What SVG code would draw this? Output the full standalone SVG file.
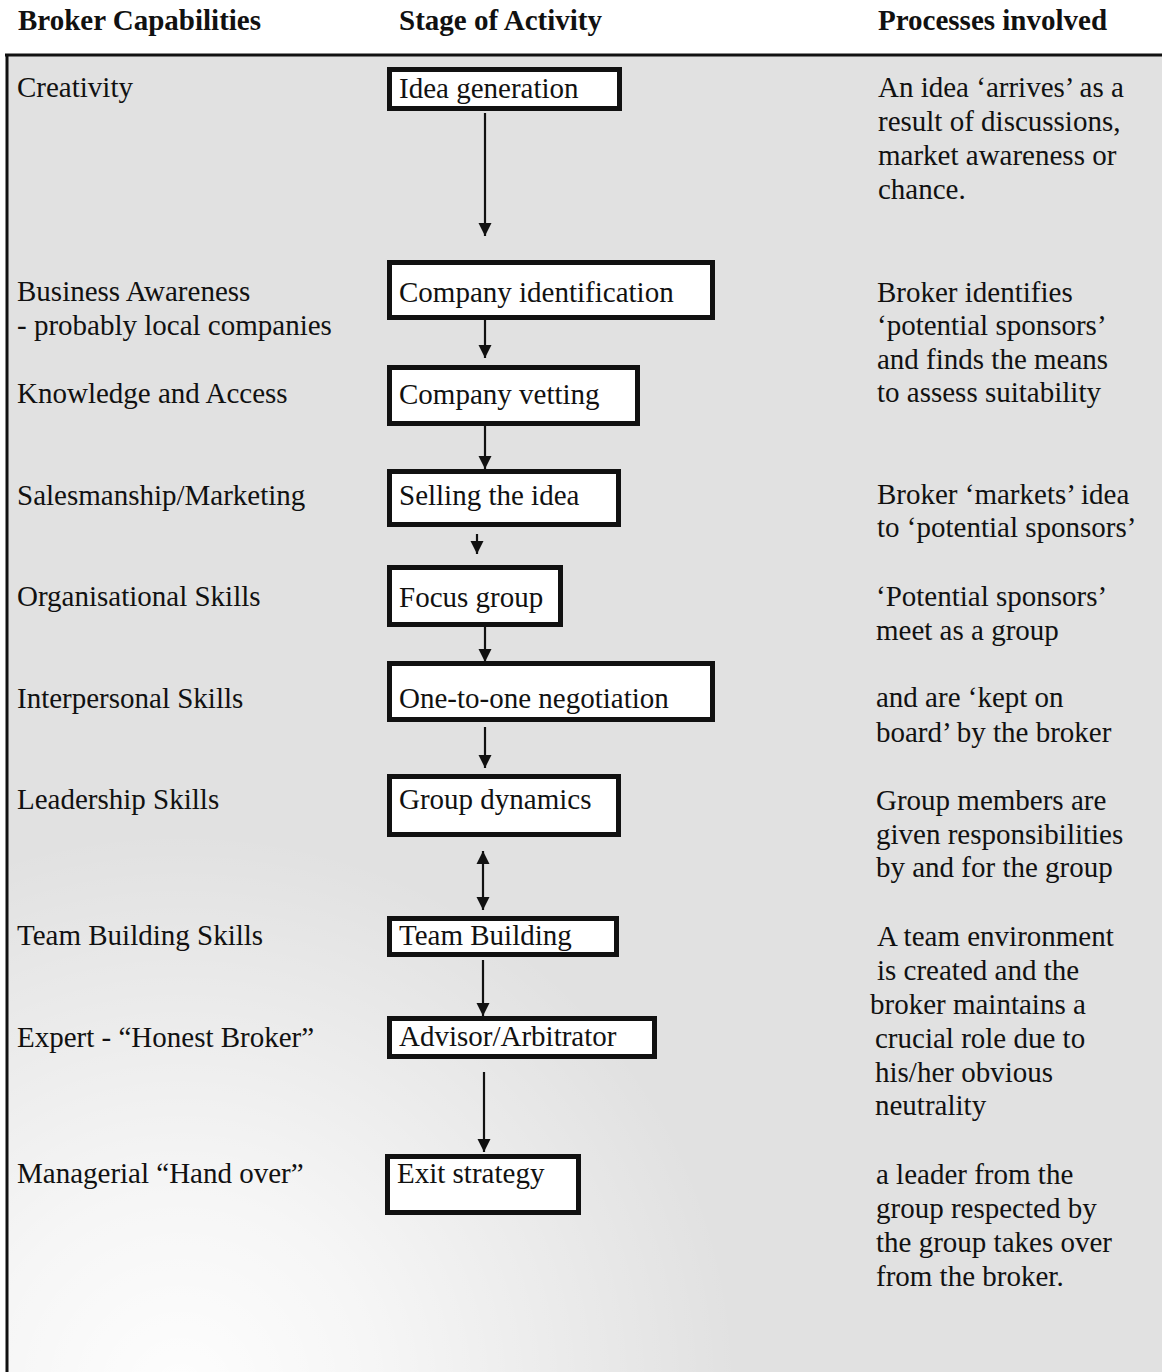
<svg xmlns="http://www.w3.org/2000/svg" width="1162" height="1372" viewBox="0 0 1162 1372">
  <style>
    .t { font-family: "Liberation Serif", "Times New Roman", serif; font-size: 29px; fill: #111; }
    .h { font-family: "Liberation Serif", "Times New Roman", serif; font-size: 29px; font-weight: bold; fill: #111; }
    .box rect { fill: #ffffff; stroke: #111; stroke-width: 5; }
    .conn line { stroke: #111; stroke-width: 2.2; fill: none; }
  </style>
  <defs>
    <marker id="arrow" markerUnits="userSpaceOnUse" markerWidth="14" markerHeight="14" refX="13" refY="7" orient="auto-start-reverse">
      <path d="M0,0.5 L13,7 L0,13.5 z" fill="#111"/>
    </marker>
    <radialGradient id="fade" cx="180" cy="1390" r="560" gradientUnits="userSpaceOnUse">
      <stop offset="0" stop-color="#ffffff" stop-opacity="0.95"/>
      <stop offset="0.35" stop-color="#ffffff" stop-opacity="0.7"/>
      <stop offset="1" stop-color="#ffffff" stop-opacity="0"/>
    </radialGradient>
  </defs>

  <!-- page -->
  <rect x="0" y="0" width="1162" height="1372" fill="#ffffff"/>

  <!-- shaded panel -->
  <rect x="7" y="55" width="1155" height="1317" fill="#e1e1e1"/>
  <rect x="7" y="55" width="1155" height="1317" fill="url(#fade)"/>
  <line x1="5" y1="55" x2="1162" y2="55" stroke="#111" stroke-width="3"/>
  <line x1="7" y1="54" x2="7" y2="1372" stroke="#111" stroke-width="3"/>

  <!-- column headings -->
  <g id="headings">
    <text class="h" x="18" y="30">Broker Capabilities</text>
    <text class="h" x="399" y="30">Stage of Activity</text>
    <text class="h" x="878" y="30">Processes involved</text>
  </g>

  <!-- broker capabilities -->
  <g id="capabilities">
    <text class="t" x="17" y="97">Creativity</text>
    <text class="t" x="17" y="301">Business Awareness</text>
    <text class="t" x="17" y="335">- probably local companies</text>
    <text class="t" x="17" y="403">Knowledge and Access</text>
    <text class="t" x="17" y="505">Salesmanship/Marketing</text>
    <text class="t" x="17" y="606">Organisational Skills</text>
    <text class="t" x="17" y="708">Interpersonal Skills</text>
    <text class="t" x="17" y="809">Leadership Skills</text>
    <text class="t" x="17" y="945">Team Building Skills</text>
    <text class="t" x="17" y="1047">Expert - “Honest Broker”</text>
    <text class="t" x="17" y="1183">Managerial “Hand over”</text>
  </g>

  <!-- connectors -->
  <g id="connectors" class="conn">
    <line x1="485" y1="113" x2="485" y2="236" marker-end="url(#arrow)"/>
    <line x1="485" y1="320" x2="485" y2="358" marker-end="url(#arrow)"/>
    <line x1="485" y1="426" x2="485" y2="469" marker-end="url(#arrow)"/>
    <line x1="477" y1="534" x2="477" y2="554" marker-end="url(#arrow)"/>
    <line x1="485" y1="627" x2="485" y2="662" marker-end="url(#arrow)"/>
    <line x1="485" y1="727" x2="485" y2="768" marker-end="url(#arrow)"/>
    <line x1="483" y1="851" x2="483" y2="910" marker-start="url(#arrow)" marker-end="url(#arrow)"/>
    <line x1="483" y1="960" x2="483" y2="1016" marker-end="url(#arrow)"/>
    <line x1="484" y1="1072" x2="484" y2="1152" marker-end="url(#arrow)"/>
  </g>

  <!-- stages -->
  <g id="idea-generation" class="box">
    <rect x="389.5" y="69.5" width="230" height="39"/>
    <text class="t" x="399" y="98">Idea generation</text>
  </g>
  <g id="company-identification" class="box">
    <rect x="389.5" y="262.5" width="323" height="55"/>
    <text class="t" x="399" y="302">Company identification</text>
  </g>
  <g id="company-vetting" class="box">
    <rect x="389.5" y="367.5" width="248" height="56"/>
    <text class="t" x="399" y="404">Company vetting</text>
  </g>
  <g id="selling-the-idea" class="box">
    <rect x="389.5" y="471.5" width="229" height="53"/>
    <text class="t" x="399" y="505">Selling the idea</text>
  </g>
  <g id="focus-group" class="box">
    <rect x="389.5" y="567.5" width="171" height="57"/>
    <text class="t" x="399" y="607">Focus group</text>
  </g>
  <g id="one-to-one-negotiation" class="box">
    <rect x="389.5" y="663.5" width="323" height="56"/>
    <text class="t" x="399" y="708">One-to-one negotiation</text>
  </g>
  <g id="group-dynamics" class="box">
    <rect x="389.5" y="776.5" width="229" height="58"/>
    <text class="t" x="399" y="809">Group dynamics</text>
  </g>
  <g id="team-building" class="box">
    <rect x="389.5" y="918.5" width="227" height="36"/>
    <text class="t" x="399" y="945">Team Building</text>
  </g>
  <g id="advisor-arbitrator" class="box">
    <rect x="389.5" y="1018.5" width="265" height="38"/>
    <text class="t" x="399" y="1046">Advisor/Arbitrator</text>
  </g>
  <g id="exit-strategy" class="box">
    <rect x="387.5" y="1156.5" width="191" height="56"/>
    <text class="t" x="397" y="1183">Exit strategy</text>
  </g>

  <!-- processes involved -->
  <g id="processes">
    <text class="t" x="878" y="97">An idea ‘arrives’ as a</text>
    <text class="t" x="878" y="131">result of discussions,</text>
    <text class="t" x="878" y="165">market awareness or</text>
    <text class="t" x="878" y="199">chance.</text>

    <text class="t" x="877" y="302">Broker identifies</text>
    <text class="t" x="877" y="335">‘potential sponsors’</text>
    <text class="t" x="877" y="369">and finds the means</text>
    <text class="t" x="877" y="402">to assess suitability</text>

    <text class="t" x="877" y="504">Broker ‘markets’ idea</text>
    <text class="t" x="877" y="537">to ‘potential sponsors’</text>

    <text class="t" x="876" y="606">‘Potential sponsors’</text>
    <text class="t" x="876" y="640">meet as a group</text>

    <text class="t" x="876" y="707">and are ‘kept on</text>
    <text class="t" x="876" y="742">board’ by the broker</text>

    <text class="t" x="876" y="810">Group members are</text>
    <text class="t" x="876" y="844">given responsibilities</text>
    <text class="t" x="876" y="877">by and for the group</text>

    <text class="t" x="877" y="946">A team environment</text>
    <text class="t" x="877" y="980">is created and the</text>
    <text class="t" x="870" y="1014">broker maintains a</text>
    <text class="t" x="875" y="1048">crucial role due to</text>
    <text class="t" x="875" y="1082">his/her obvious</text>
    <text class="t" x="875" y="1115">neutrality</text>

    <text class="t" x="876" y="1184">a leader from the</text>
    <text class="t" x="876" y="1218">group respected by</text>
    <text class="t" x="876" y="1252">the group takes over</text>
    <text class="t" x="876" y="1286">from the broker.</text>
  </g>
</svg>
